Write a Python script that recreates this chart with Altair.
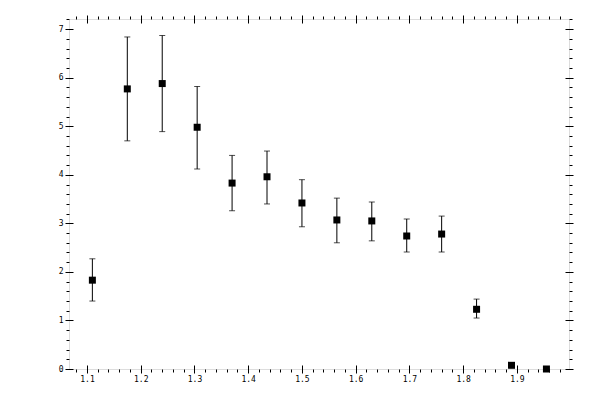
import altair as alt
import pandas as pd

x_vals = [1.11, 1.175, 1.24, 1.305, 1.37, 1.435, 1.5, 1.565, 1.63, 1.695, 1.76, 1.825, 1.89, 1.955]
y_vals = [1.83, 5.77, 5.88, 4.98, 3.83, 3.96, 3.42, 3.07, 3.05, 2.74, 2.78, 1.23, 0.076, 0.0]
y_low = [1.40, 4.70, 4.89, 4.12, 3.26, 3.40, 2.93, 2.60, 2.64, 2.41, 2.41, 1.05, 0.05, 0.0]
y_high = [2.27, 6.84, 6.87, 5.82, 4.40, 4.49, 3.90, 3.52, 3.44, 3.09, 3.15, 1.44, 0.10, 0.0]

x_major = [1.1, 1.2, 1.3, 1.4, 1.5, 1.6, 1.7, 1.8, 1.9]
x_minor = [round(1.08 + 0.02 * i, 2) for i in range(46)]
y_major = [0, 1, 2, 3, 4, 5, 6, 7]
y_minor = [round(0.2 * i, 1) for i in range(37)]

df = pd.DataFrame({"x": x_vals, "y": y_vals, "lo": y_low, "hi": y_high})

xs = alt.Scale(domain=[1.0665, 1.997], nice=False, zero=False)
ys = alt.Scale(domain=[0, 7.21], nice=False, zero=False)

FONT = "DejaVu Sans Mono"

def major_axis(orient, values, labels, fmt):
    kw = dict(orient=orient, values=values, tickSize=8, offset=-4, domain=False,
              grid=False, tickColor="black", tickWidth=1, title=None)
    if labels:
        kw.update(labels=True, labelFont=FONT, labelFontSize=8, labelColor="black",
                  labelPadding=2, format=fmt)
    else:
        kw.update(labels=False)
    return alt.Axis(**kw)

def minor_axis(orient, values):
    return alt.Axis(orient=orient, values=values, tickSize=3, domain=False, grid=False,
                    labels=False, tickColor="black", tickWidth=1, title=None)

base = alt.Chart(df)

rules = base.mark_rule(color="black", strokeWidth=1).encode(
    x=alt.X("x:Q", scale=xs, axis=major_axis("bottom", x_major, True, ".1f")),
    y=alt.Y("lo:Q", scale=ys, axis=major_axis("left", y_major, True, "d")),
    y2="hi:Q",
)

caps_lo = base.mark_tick(color="black", orient="horizontal", size=6, thickness=1).encode(
    x=alt.X("x:Q", scale=xs, axis=minor_axis("bottom", x_minor)),
    y=alt.Y("lo:Q", scale=ys, axis=minor_axis("left", y_minor)),
)

caps_hi = base.mark_tick(color="black", orient="horizontal", size=6, thickness=1).encode(
    x=alt.X("x:Q", scale=xs, axis=major_axis("top", x_major, False, "")),
    y=alt.Y("hi:Q", scale=ys, axis=major_axis("right", y_major, False, "")),
)

points = base.mark_square(color="black", size=49, opacity=1).encode(
    x=alt.X("x:Q", scale=xs, axis=minor_axis("top", x_minor)),
    y=alt.Y("y:Q", scale=ys, axis=minor_axis("right", y_minor)),
)

chart = alt.layer(rules, caps_lo, caps_hi, points).resolve_axis(
    x="independent", y="independent"
).properties(
    width=500, height=350,
    autosize=alt.AutoSizeParams(type="none"),
    padding={"left": 61, "top": 11, "right": 23, "bottom": 23},
).configure_view(stroke="black", strokeWidth=1).configure(background="white")

chart.save("out.html", embed_options={"renderer": "svg", "actions": False})
